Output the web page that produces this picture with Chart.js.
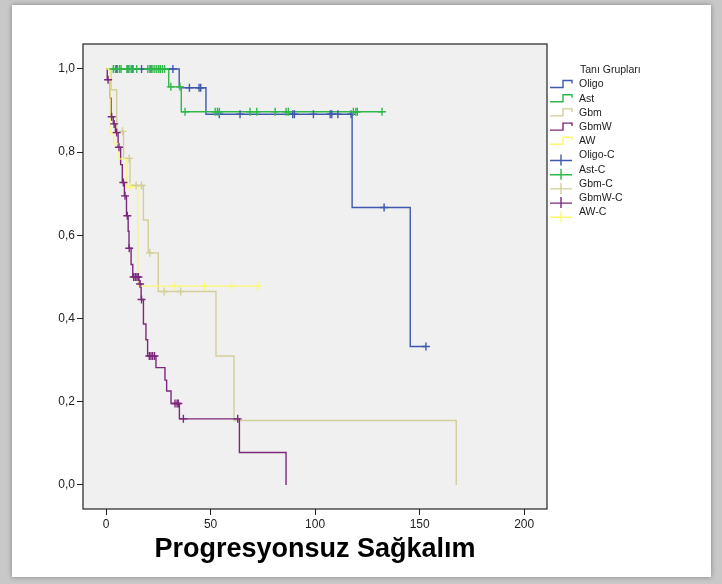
<!DOCTYPE html>
<html>
<head>
<meta charset="utf-8">
<script src="https://cdn.jsdelivr.net/npm/chart.js"></script>
<style>
  html, body { margin: 0; padding: 0; }
  body { width: 722px; height: 584px; background: #c8c8c8; position: relative; overflow: hidden; }
  #paper { position: absolute; left: 12px; top: 5px; width: 699px; height: 572px; background: #fff; box-shadow: 0 0 5px rgba(0,0,0,0.35); }
  #km { position: absolute; left: 0; top: 0; }
</style>
</head>
<body>
<div id="paper"></div>
<canvas id="km" width="722" height="584"></canvas>
<script>
// groups and colours (SPSS default palette)
const groupNames = ['Oligo', 'Ast', 'Gbm', 'GbmW', 'AW'];
const groupColors = ['#3e58ac', '#2eb848', '#d3ce97', '#7c287d', '#fbf873'];

// step curves: time of each event and survival after it (last point = end of follow-up)
const oligoTime = [0, 35, 47.8, 117.7, 145.5, 153];
const oligoSurv = [1, 0.955, 0.891, 0.667, 0.333, 0.333];
const astTime = [0, 30, 36, 132];
const astSurv = [1, 0.957, 0.897, 0.897];
const gbmTime = [0, 2.4, 5.1, 8.4, 11.5, 17.9, 20.2, 25, 52.6, 61.2, 167.5];
const gbmSurv = [1, 0.95, 0.85, 0.785, 0.72, 0.637, 0.558, 0.465, 0.31, 0.155, 0];
const gbmwTime = [0, 0.6, 1.8, 2.4, 3.5, 4.5, 5.8, 7, 7.8, 8.8, 9.8, 10.6, 11, 12, 12.8, 15.8, 16.8, 17.9, 19.1, 19.9, 23.9, 28.2, 29, 31.1, 35.1, 63.8, 86.1];
const gbmwSurv = [1, 0.974, 0.93, 0.885, 0.868, 0.847, 0.812, 0.77, 0.727, 0.695, 0.647, 0.61, 0.569, 0.53, 0.5, 0.483, 0.446, 0.387, 0.349, 0.31, 0.282, 0.252, 0.226, 0.196, 0.159, 0.078, 0];
const awTime = [0, 1.9, 3.6, 6.2, 10, 15.2, 72.7];
const awSurv = [1, 0.846, 0.82, 0.784, 0.717, 0.478, 0.478];

// censored cases
const oligoCensT = [5, 10.5, 12.5, 17, 21.5, 26, 32, 39.9, 44.5, 45.3, 54.2, 64.1, 89.3, 90.1, 99.2, 107.2, 108, 110.9, 117.2, 133, 153];
const oligoCensS = [1, 1, 1, 1, 1, 1, 1, 0.955, 0.955, 0.955, 0.891, 0.891, 0.891, 0.891, 0.891, 0.891, 0.891, 0.891, 0.891, 0.667, 0.333];
const astCensT = [3.5, 4.5, 5.5, 6.5, 7.2, 10, 11, 12, 13, 14.7, 20, 21, 22, 23, 24, 25, 26, 27, 28, 31, 35.4, 37.8, 52.2, 53.3, 54.2, 68.9, 72.1, 80.9, 86.1, 87.2, 118.3, 119.5, 120.2, 132];
const astCensS = [1, 1, 1, 1, 1, 1, 1, 1, 1, 1, 1, 1, 1, 1, 1, 1, 1, 1, 1, 0.957, 0.957, 0.897, 0.897, 0.897, 0.897, 0.897, 0.897, 0.897, 0.897, 0.897, 0.897, 0.897, 0.897, 0.897];
const gbmCensT = [7.9, 11.1, 14.4, 17, 21, 27.8, 35.7];
const gbmCensS = [0.85, 0.785, 0.72, 0.72, 0.558, 0.465, 0.465];
const gbmwCensT = [1.0, 2.7, 3.9, 5.1, 6.2, 8.3, 9.1, 10.2, 11.1, 13.2, 14, 14.8, 15.5, 16.3, 17, 20.7, 21.5, 22.3, 23.2, 33, 34, 34.6, 37, 63];
const gbmwCensS = [0.974, 0.885, 0.868, 0.847, 0.812, 0.727, 0.695, 0.647, 0.569, 0.5, 0.5, 0.5, 0.5, 0.483, 0.446, 0.31, 0.31, 0.31, 0.31, 0.196, 0.196, 0.196, 0.159, 0.159];
const awCensT = [11.5, 33, 47, 60.1, 72.7];
const awCensS = [0.717, 0.478, 0.478, 0.478, 0.478];

// axes
const xTicks = [0, 50, 100, 150, 200];
const yTicks = [0, 0.2, 0.4, 0.6, 0.8, 1.0];
const yTickLabels = ['0,0', '0,2', '0,4', '0,6', '0,8', '1,0'];
const legendTitle = 'Tanı Grupları';
const xTitle = 'Progresyonsuz Sağkalım';

const lines = [[oligoTime, oligoSurv], [astTime, astSurv], [gbmTime, gbmSurv], [gbmwTime, gbmwSurv], [awTime, awSurv]];
const censors = [[oligoCensT, oligoCensS], [astCensT, astCensS], [gbmCensT, gbmCensS], [gbmwCensT, gbmwCensS], [awCensT, awCensS]];

const toPts = (t, s) => t.map((v, i) => ({ x: v, y: s[i] }));

const datasets = [];
lines.forEach((l, i) => {
    datasets.push({
        label: groupNames[i],
        data: toPts(l[0], l[1]),
        showLine: true,
        stepped: 'before',
        borderColor: groupColors[i],
        borderWidth: 1.4,
        pointRadius: 0,
        order: 20 - i
    });
});
censors.forEach((c, i) => {
    datasets.push({
        label: groupNames[i] + '-C',
        data: toPts(c[0], c[1]),
        showLine: false,
        pointStyle: 'cross',
        pointRadius: 4,
        pointBorderWidth: 1.4,
        borderColor: groupColors[i],
        backgroundColor: groupColors[i],
        order: 10 - i
    });
});

// grey plot background, box frame and SPSS style legend
const kmFrame = {
    id: 'kmFrame',
    beforeDraw(chart) {
        const { ctx, chartArea: a } = chart;
        ctx.save();
        ctx.fillStyle = '#f0f0f0';
        ctx.fillRect(a.left, a.top, a.right - a.left, a.bottom - a.top);
        ctx.restore();
    },
    afterDraw(chart) {
        const { ctx, chartArea: a } = chart;
        ctx.save();
        ctx.strokeStyle = '#222';
        ctx.lineWidth = 1.2;
        ctx.strokeRect(a.left, a.top, a.right - a.left, a.bottom - a.top);

        ctx.font = "10.5px 'Liberation Sans', Arial, sans-serif";
        ctx.fillStyle = '#222';
        ctx.textBaseline = 'middle';
        ctx.fillText(legendTitle, 580, 70);
        const x0 = 550, tx = 579;
        let y = 84.5;
        ctx.lineWidth = 1.4;
        groupNames.forEach((n, i) => {
            ctx.strokeStyle = groupColors[i];
            ctx.beginPath();
            ctx.moveTo(x0, y + 3);
            ctx.lineTo(x0 + 13, y + 3);
            ctx.lineTo(x0 + 13, y - 4);
            ctx.lineTo(x0 + 22, y - 4);
            ctx.lineTo(x0 + 22, y - 1);
            ctx.stroke();
            ctx.fillText(n, tx, y);
            y += 14.2;
        });
        groupNames.forEach((n, i) => {
            ctx.strokeStyle = groupColors[i];
            ctx.beginPath();
            ctx.moveTo(x0, y + 5);
            ctx.lineTo(x0 + 22, y + 5);
            ctx.moveTo(x0 + 11, y - 1);
            ctx.lineTo(x0 + 11, y + 10);
            ctx.stroke();
            ctx.fillText(n + '-C', tx, y);
            y += 14.2;
        });
        ctx.restore();
    }
};

Chart.defaults.font.family = "'Liberation Sans', Arial, sans-serif";
Chart.defaults.color = '#222';

new Chart(document.getElementById('km'), {
    type: 'scatter',
    data: { datasets: datasets },
    options: {
        responsive: false,
        animation: false,
        events: [],
        layout: { padding: { left: 0, top: 44, right: 175, bottom: 0 } },
        plugins: { legend: { display: false }, tooltip: { enabled: false } },
        scales: {
            x: {
                type: 'linear',
                min: -11,
                max: 210.9,
                afterBuildTicks: (s) => { s.ticks = xTicks.map(v => ({ value: v })); },
                afterFit: (s) => { s.height = 75; },
                grid: { drawOnChartArea: false, tickLength: 6, tickColor: '#222' },
                border: { display: false },
                ticks: { font: { size: 12 }, padding: 2, maxRotation: 0 },
                title: {
                    display: true,
                    text: xTitle,
                    color: '#000',
                    font: { size: 27, weight: 'bold' },
                    padding: { top: 0, bottom: 18 }
                }
            },
            y: {
                type: 'linear',
                min: -0.0577,
                max: 1.06,
                afterBuildTicks: (s) => { s.ticks = yTicks.map(v => ({ value: v })); },
                afterFit: (s) => { s.width = 83; },
                grid: { drawOnChartArea: false, tickLength: 6, tickColor: '#222' },
                border: { display: false },
                ticks: {
                    font: { size: 12 },
                    padding: 2,
                    callback: (v) => yTickLabels[yTicks.indexOf(v)]
                }
            }
        }
    },
    plugins: [kmFrame]
});
</script>
</body>
</html>
